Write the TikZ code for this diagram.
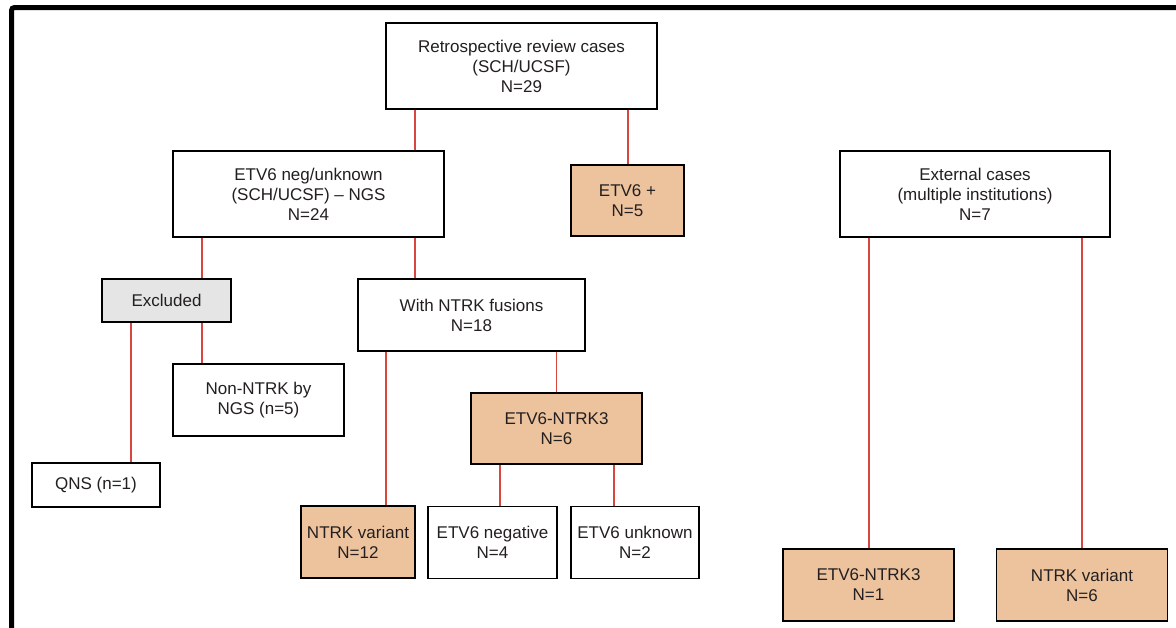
\documentclass[tikz,border=0pt]{standalone}
\usepackage{fontspec}
\setmainfont{Liberation Sans}
\definecolor{boxorange}{RGB}{237,195,158}
\definecolor{boxgray}{RGB}{229,229,229}
\definecolor{linkred}{RGB}{214,72,62}
\definecolor{textdark}{RGB}{35,31,32}
\begin{document}
\begin{tikzpicture}[x=1pt,y=-1pt,
  box/.style={draw=black, line width=1.6pt, fill=white, align=center, inner sep=0pt,
    text=textdark, font=\fontsize{17}{20}\selectfont},
  orangebox/.style={box, fill=boxorange},
  graybox/.style={box, fill=boxgray},
  link/.style={draw=linkred, line width=1.4pt}]
\useasboundingbox (0,0) rectangle (1176,627);
\fill[white] (0,0) rectangle (1176,627);
\draw[line width=5pt, rounded corners=3pt] (11.5,640) -- (11.5,7.5) -- (1190,7.5);

\node[box, minimum width=271pt, minimum height=86pt] (root) at (521.5,66) {Retrospective review cases\\(SCH/UCSF)\\N=29};
\node[box, minimum width=271pt, minimum height=86pt] (etvneg) at (308.5,194) {ETV6 neg/unknown\\(SCH/UCSF) -- NGS\\N=24};
\node[orangebox, minimum width=113pt, minimum height=71pt] (etvpos) at (627.5,200.5) {ETV6 +\\N=5};
\node[box, minimum width=270pt, minimum height=86pt] (ext) at (975,194) {External cases\\(multiple institutions)\\N=7};
\node[graybox, minimum width=129pt, minimum height=43pt] (excl) at (166.5,300.5) {Excluded};
\node[box, minimum width=227pt, minimum height=72pt] (withntrk) at (471.5,315) {With NTRK fusions\\N=18};
\node[box, minimum width=171pt, minimum height=72pt] (nonntrk) at (258.5,400) {Non-NTRK by\\NGS (n=5)};
\node[orangebox, minimum width=171pt, minimum height=71pt] (e3mid) at (556.5,428.5) {ETV6-NTRK3\\N=6};
\node[box, minimum width=128pt, minimum height=44pt] (qns) at (96,485) {QNS (n=1)};
\node[orangebox, minimum width=114pt, minimum height=72pt] (ntrkvar) at (358,542) {NTRK variant\\N=12};
\node[box, minimum width=129pt, minimum height=72pt] (etvneg2) at (492.5,542.5) {ETV6 negative\\N=4};
\node[box, minimum width=128pt, minimum height=72pt] (etvunk) at (635,542.5) {ETV6 unknown\\N=2};
\node[orangebox, minimum width=171pt, minimum height=72pt] (e3right) at (868.5,585) {ETV6-NTRK3\\N=1};
\node[orangebox, minimum width=171pt, minimum height=72pt] (ntrkright) at (1082,585) {NTRK variant\\N=6};

\draw[link] ([xshift=-106.5pt]root.south) -- ([xshift=106.5pt]etvneg.north);
\draw[link] ([xshift=106.5pt]root.south) -- ([xshift=0.5pt]etvpos.north);
\draw[link] ([xshift=-106.5pt]etvneg.south) -- ([xshift=35.5pt]excl.north);
\draw[link] ([xshift=106.5pt]etvneg.south) -- ([xshift=-56.5pt]withntrk.north);
\draw[link] ([xshift=-35.5pt]excl.south) -- ([xshift=35pt]qns.north);
\draw[link] ([xshift=35.5pt]excl.south) -- ([xshift=-56.5pt]nonntrk.north);
\draw[link] ([xshift=-85.5pt]withntrk.south) -- ([xshift=28pt]ntrkvar.north);
\draw[link] ([xshift=85pt]withntrk.south) -- (e3mid.north);
\draw[link] ([xshift=-56.5pt]e3mid.south) -- ([xshift=7.5pt]etvneg2.north);
\draw[link] ([xshift=57.5pt]e3mid.south) -- ([xshift=-21pt]etvunk.north);
\draw[link] ([xshift=-106pt]ext.south) -- ([xshift=0.5pt]e3right.north);
\draw[link] ([xshift=107pt]ext.south) -- (ntrkright.north);
\end{tikzpicture}
\end{document}
